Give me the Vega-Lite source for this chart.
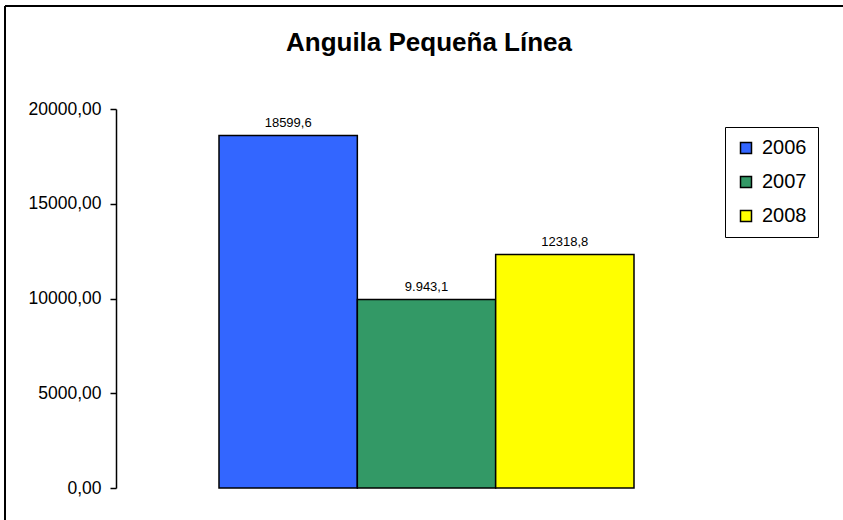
{
  "$schema": "https://vega.github.io/schema/vega-lite/v6.json",
  "usermeta": {"embedOptions": {"actions": false}},
  "autosize": "none",
  "padding": {"left": 5, "top": 6, "right": 0, "bottom": 0},
  "width": 838,
  "height": 514,
  "background": "white",
  "title": {
    "text": "Anguila Pequeña Línea",
    "font": "Liberation Sans",
    "fontSize": 26,
    "fontWeight": "bold",
    "color": "black",
    "anchor": "middle",
    "offset": -50,
    "dx": 5
  },
  "config": {
    "view": {"stroke": "black", "strokeWidth": 2, "strokeDash": [838, 1352, 514, 0]},
    "font": "Liberation Sans"
  },
  "data": {
    "values": [
      {"year": "2006", "value": 18599.6, "label": "18599,6"},
      {"year": "2007", "value": 9943.1, "label": "9.943,1"},
      {"year": "2008", "value": 12318.8, "label": "12318,8"}
    ]
  },
  "encoding": {
    "x": {
      "field": "year",
      "type": "nominal",
      "axis": null,
      "scale": {"range": [214, 629], "paddingInner": 0, "paddingOuter": 0}
    },
    "y": {
      "field": "value",
      "type": "quantitative",
      "scale": {"domain": [0, 20000], "range": [482, 103], "nice": false, "zero": true},
      "axis": {
        "title": null,
        "offset": -111,
        "values": [0, 5000, 10000, 15000, 20000],
        "labelExpr": "replace(format(datum.value, '.2f'), '.', ',')",
        "labelFont": "Liberation Sans",
        "labelFontSize": 17.5,
        "labelColor": "black",
        "labelPadding": 9,
        "tickSize": 6,
        "tickColor": "black",
        "tickWidth": 1.5,
        "domainColor": "black",
        "domainWidth": 1.5,
        "grid": false
      }
    }
  },
  "layer": [
    {
      "mark": {"type": "bar", "stroke": "black", "strokeWidth": 1.5},
      "encoding": {
        "color": {
          "field": "year",
          "type": "nominal",
          "scale": {"domain": ["2006", "2007", "2008"], "range": ["#3366FF", "#339966", "#FFFF00"]},
          "legend": {
            "title": null,
            "orient": "none",
            "legendX": 720,
            "legendY": 121,
            "strokeColor": "black",
            "padding": 11,
            "symbolType": "square",
            "symbolSize": 121,
            "symbolStrokeColor": "black",
            "symbolStrokeWidth": 1.5,
            "symbolOpacity": 1,
            "labelFont": "Liberation Sans",
            "labelFontSize": 20,
            "labelColor": "black",
            "labelOffset": 6,
            "rowPadding": 14
          }
        }
      }
    },
    {
      "mark": {"type": "text", "baseline": "alphabetic", "dy": -9, "fontSize": 13, "font": "Liberation Sans", "color": "black"},
      "encoding": {"text": {"field": "label"}}
    }
  ]
}
